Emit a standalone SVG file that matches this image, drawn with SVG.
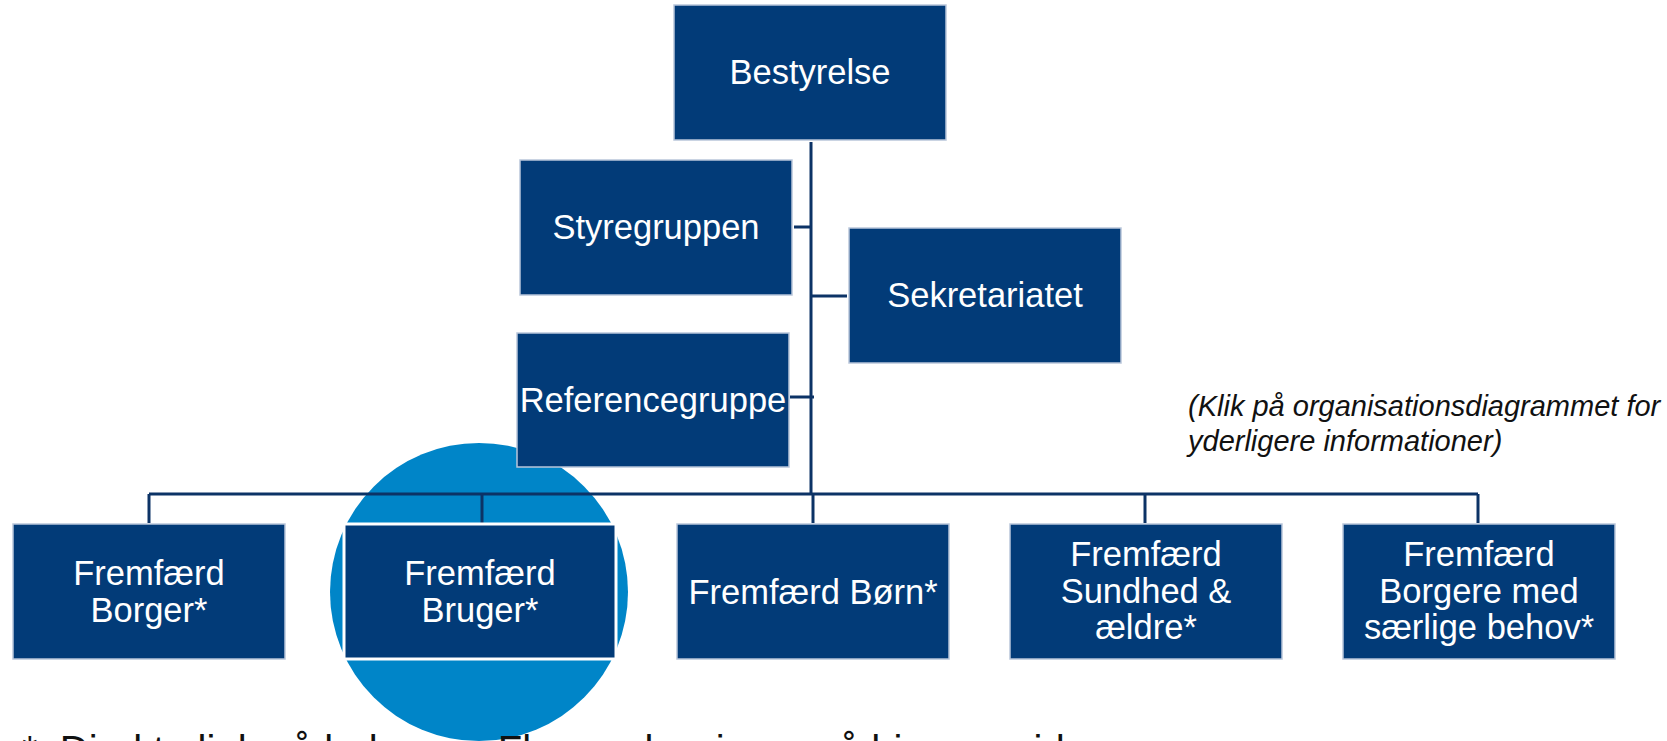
<svg xmlns="http://www.w3.org/2000/svg" width="1667" height="741" viewBox="0 0 1667 741">
<style>
.box{fill:#023b78;stroke:#b9c6da;stroke-width:1.5}
.lbl{font-family:"Liberation Sans",Arial,sans-serif;font-size:34.5px;fill:#ffffff;text-anchor:middle}
.con{stroke:#0c3366;stroke-width:3;fill:none}
.note{font-family:"Liberation Sans",Arial,sans-serif;font-size:29px;font-style:italic;fill:#111111}
.foot{font-family:"Liberation Sans",Arial,sans-serif;font-size:40px;fill:#111111}
</style>
<rect width="1667" height="741" fill="#ffffff"/>
<circle id="highlight" cx="479" cy="592" r="149" fill="#0085c8"/>
<g id="connectors">
<line class="con" x1="811" y1="142" x2="811" y2="494"/>
<line class="con" x1="794" y1="227" x2="811" y2="227"/>
<line class="con" x1="811" y1="296" x2="847" y2="296"/>
<line class="con" x1="790" y1="397" x2="814" y2="397" stroke-width="5"/>
<line class="con" x1="149" y1="494" x2="1478" y2="494"/>
<line class="con" x1="149" y1="494" x2="149" y2="523"/>
<line class="con" x1="482" y1="494" x2="482" y2="523"/>
<line class="con" x1="813" y1="494" x2="813" y2="523"/>
<line class="con" x1="1145" y1="494" x2="1145" y2="523"/>
<line class="con" x1="1478" y1="494" x2="1478" y2="523"/>
</g>
<g id="bestyrelse"><rect class="box" x="674" y="5" width="272" height="135"/><text class="lbl" x="810" y="84">Bestyrelse</text></g>
<g id="styregruppen"><rect class="box" x="520" y="160" width="272" height="135"/><text class="lbl" x="656" y="239">Styregruppen</text></g>
<g id="sekretariatet"><rect class="box" x="849" y="228" width="272" height="135"/><text class="lbl" x="985" y="307">Sekretariatet</text></g>
<g id="referencegruppe"><rect class="box" x="517" y="333" width="272" height="134"/><text class="lbl" x="653" y="412">Referencegruppe</text></g>
<g id="borger"><rect class="box" x="13" y="524" width="272" height="135"/><text class="lbl" x="149" y="585">Fremfærd</text><text class="lbl" x="149" y="622">Borger*</text></g>
<g id="bruger"><rect class="box" x="344" y="524" width="272" height="135" style="stroke:#ffffff;stroke-width:3"/><text class="lbl" x="480" y="585">Fremfærd</text><text class="lbl" x="480" y="622">Bruger*</text></g>
<g id="boern"><rect class="box" x="677" y="524" width="272" height="135"/><text class="lbl" x="813" y="604">Fremfærd Børn*</text></g>
<g id="sundhed"><rect class="box" x="1010" y="524" width="272" height="135"/><text class="lbl" x="1146" y="566">Fremfærd</text><text class="lbl" x="1146" y="603">Sundhed &amp;</text><text class="lbl" x="1146" y="639">ældre*</text></g>
<g id="saerlige"><rect class="box" x="1343" y="524" width="272" height="135"/><text class="lbl" x="1479" y="566">Fremfærd</text><text class="lbl" x="1479" y="603">Borgere med</text><text class="lbl" x="1479" y="639">særlige behov*</text></g>
<g id="note">
<text class="note" x="1188" y="416">(Klik på organisationsdiagrammet for</text>
<text class="note" x="1188" y="451">yderligere informationer)</text>
</g>
<text class="foot" x="22" y="764" xml:space="preserve">*  Direkte link på boksene. Flere oplysninger på hjemmesiden</text>
</svg>
